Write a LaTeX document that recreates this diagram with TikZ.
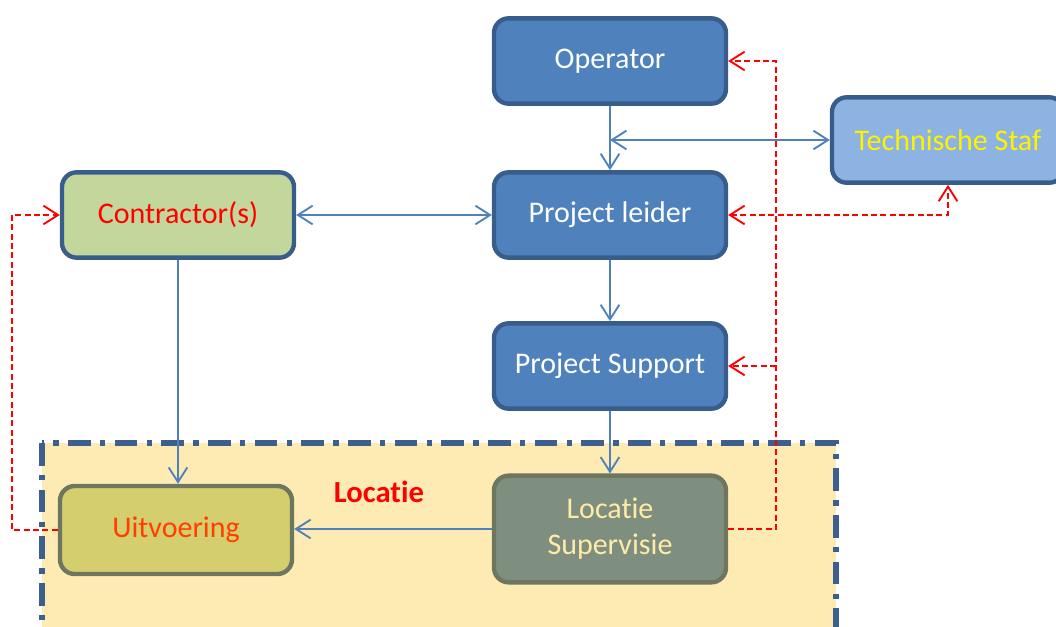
\documentclass[tikz,border=0pt]{standalone}
\usepackage{fontspec}
\setmainfont{Carlito}[RawFeature=-liga]
\usetikzlibrary{arrows.meta}
\definecolor{nblue}{HTML}{4F81BD}
\definecolor{nborder}{HTML}{385D8A}
\definecolor{tsfill}{HTML}{8DB3E2}
\definecolor{cofill}{HTML}{C3D69B}
\definecolor{uvfill}{HTML}{D4CE6E}
\definecolor{olborder}{HTML}{6F7660}
\definecolor{uvtext}{HTML}{FF3F00}
\definecolor{lsfill}{HTML}{7F8F7F}
\definecolor{lstext}{HTML}{FFEBA8}
\definecolor{locfill}{HTML}{FEEBB3}
\definecolor{locborder}{HTML}{3C5F8D}
\begin{document}
\begin{tikzpicture}[x=0.75pt,y=-0.75pt,
  box/.style={rounded corners=11pt, line width=3.3pt, minimum width=174pt, minimum height=64pt,
    inner sep=0pt, align=center, font=\fontsize{22.5}{27}\selectfont},
  bluebox/.style={box, draw=nborder, fill=nblue, text=white},
  olbox/.style={box, draw=olborder},
  bline/.style={draw=nblue, line width=1.4pt, -{Straight Barb[length=11pt,width=14pt]}},
  bline2/.style={draw=nblue, line width=1.4pt, {Straight Barb[length=11pt,width=14pt]}-{Straight Barb[length=11pt,width=14pt]}},
  rline/.style={draw=red, line width=1.4pt, dash pattern=on 4.5pt off 2.5pt, -{Straight Barb[length=11pt,width=14pt]}},
  rline2/.style={draw=red, line width=1.4pt, dash pattern=on 4.5pt off 2.5pt, {Straight Barb[length=11pt,width=14pt]}-{Straight Barb[length=11pt,width=14pt]}},
  locrect/.style={fill=locfill, draw=locborder, line width=4pt, dash pattern=on 17pt off 7pt on 4pt off 7pt}
]
\useasboundingbox (0,0) rectangle (1056,627);
\clip (0,0) rectangle (1056,627);

% location area
\path[locrect] (42,443) rectangle (836,700);
\node[font=\fontsize{23}{27}\selectfont\bfseries, text=red] (loclabel) at (379,492) {Locatie};

% nodes
\node[bluebox] (op) at (610,61) {Operator};
\node[box, draw=nborder, fill=tsfill, text=yellow] (ts) at (948,140) {Technische Staf};
\node[box, draw=nborder, fill=cofill, text=red] (co) at (178,215) {Contractor(s)};
\node[bluebox] (pl) at (610,215) {Project leider};
\node[bluebox] (ps) at (610,366) {Project Support};
\node[olbox, fill=lsfill, text=lstext, minimum height=80pt] (ls) at (610,529) {Locatie\\Supervisie};
\node[olbox, fill=uvfill, text=uvtext, minimum height=66pt] (uv) at (176,530) {Uitvoering};

% blue connectors
\coordinate (j) at (610,140);
\draw[bline] (op.south) -- (pl.north);
\draw[bline2] (j) -- (ts.west);
\draw[bline2] (co.east) -- (pl.west);
\draw[bline] (co.south) -- (co.south |- uv.north);
\draw[bline] (pl.south) -- (ps.north);
\draw[bline] (ps.south) -- (ls.north);
\draw[bline] (ls.west) -- (ls.west -| uv.east);

% red dashed connectors
\coordinate (rb) at (776,529);
\coordinate (rt) at (776,61);
\coordinate (rm) at (776,366);
\draw[rline] (ls.east) -- (rb) -- (rt) -- (op.east);
\draw[rline] (rm) -- (ps.east);
\draw[rline2] (pl.east) -| (ts.south);
\coordinate (lb) at (12,530);
\draw[rline] (uv.west) -- (lb) |- (co.west);
\end{tikzpicture}
\end{document}
